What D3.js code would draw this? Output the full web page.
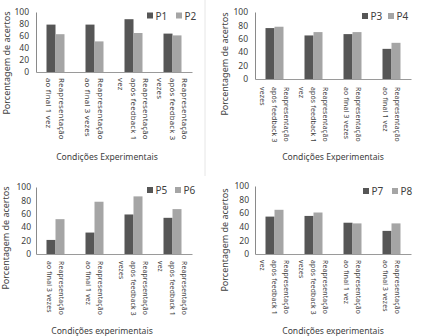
<!DOCTYPE html>
<html>
<head>
<meta charset="utf-8">
<script src="https://cdn.jsdelivr.net/npm/d3@7"></script>
<style>
  body { margin: 0; background: #fff; }
  text { font-family: "Noto Sans", sans-serif; fill: #404040; }
</style>
</head>
<body>
<div id="chart"></div>
<script>
// values
var yTicks = [0, 20, 40, 60, 80, 100];

var cats1 = [["Reapresentação", "ao final 1 vez"], ["Reapresentação", "ao final 3 vezes"],
             ["Reapresentação", "após feedback 1", "vez"], ["Reapresentação", "após feedback 3", "vezes"]];
var p1 = [79, 79, 88, 64];
var p2 = [63, 51, 65, 61];

var cats2 = [["Reapresentação", "após feedback 3", "vezes"], ["Reapresentação", "após feedback 1", "vez"],
             ["Reapresentação", "ao final 3 vezes"], ["Reapresentação", "ao final 1 vez"]];
var p3 = [76, 65, 67, 45];
var p4 = [78, 70, 70, 54];

var cats3 = [["Reapresentação", "ao final 3 vezes"], ["Reapresentação", "ao final 1 vez"],
             ["Reapresentação", "após feedback 3", "vezes"], ["Reapresentação", "após feedback 1", "vez"]];
var p5 = [21, 32, 59, 54];
var p6 = [52, 78, 86, 67];

var cats4 = [["Reapresentação", "após feedback 1", "vez"], ["Reapresentação", "após feedback 3", "vezes"],
             ["Reapresentação", "ao final 1 vez"], ["Reapresentação", "ao final 3 vezes"]];
var p7 = [55, 56, 46, 34];
var p8 = [65, 61, 45, 45];

var dark = "#565656", light = "#a5a5a5";

var svg = d3.select("#chart").append("svg")
    .attr("width", 422)
    .attr("height", 336);

// faint panel separator
svg.append("line")
    .attr("x1", 205).attr("x2", 205).attr("y1", 0).attr("y2", 176)
    .attr("stroke", "#e6e6e6");

function panel(o) {
  var g = svg.append("g");

  var x = d3.scaleBand()
    .domain(d3.range(o.cats.length))
    .range([o.x0, o.x0 + 156]);

  var xs = d3.scaleBand()
    .domain([0, 1])
    .range([0, x.bandwidth()])
    .paddingOuter(21 / 18);

  var y = d3.scaleLinear()
    .domain([0, 100])
    .range([o.yBase, o.yTop]);

  // bars
  var series = [o.a, o.b];
  series.forEach(function(vals, s) {
    g.selectAll(null)
      .data(vals)
      .enter()
      .append("rect")
        .attr("x", function(d, i) { return x(i) + xs(s); })
        .attr("y", function(d) { return y(d); })
        .attr("width", xs.bandwidth())
        .attr("height", function(d) { return o.yBase - y(d); })
        .attr("fill", s == 0 ? dark : light);
  });

  // y axis
  var yAxis = g.append("g")
    .attr("transform", "translate(" + o.x0 + ",0)")
    .call(d3.axisLeft(y).tickValues(yTicks).tickSize(0).tickPadding(o.tickPad));
  yAxis.select(".domain").attr("stroke", "#8a8a8a");
  yAxis.selectAll("text").style("font-size", "8.5px").attr("fill", "#404040");

  // x axis line
  var xAxis = g.append("g")
    .attr("transform", "translate(0," + o.yBase + ")")
    .call(d3.axisBottom(x).tickSize(0).tickFormat(""));
  xAxis.select(".domain").attr("stroke", "#9a9a9a");

  // category labels, rotated, one column per line
  o.cats.forEach(function(lines, i) {
    var cx = x(i) + x.bandwidth() / 2;
    var t = g.append("text")
      .attr("transform", "translate(" + cx + "," + (o.yBase + o.labGap) + ") rotate(90)")
      .style("font-size", o.labSize + "px")
      .style("letter-spacing", "0.2px");
    lines.forEach(function(ln, k) {
      t.append("tspan")
        .attr("x", 0)
        .attr("y", (k - (lines.length - 1) / 2) * o.lh)
        .attr("dominant-baseline", "central")
        .text(ln);
    });
  });

  // axis titles
  g.append("text")
    .attr("transform", "translate(" + o.ytX + "," + o.ytY + ") rotate(-90)")
    .attr("text-anchor", "middle")
    .attr("dominant-baseline", "central")
    .style("font-size", "9px")
    .text("Porcentagem de acertos");

  g.append("text")
    .attr("x", o.xtX)
    .attr("y", o.xtY)
    .attr("text-anchor", "middle")
    .style("font-size", "8.6px")
    .text(o.xTitle);

  // legend
  o.names.forEach(function(n, s) {
    g.append("rect")
      .attr("x", o.leg[s])
      .attr("y", o.legY - 3)
      .attr("width", 6)
      .attr("height", 6)
      .attr("fill", s == 0 ? dark : light);
    g.append("text")
      .attr("x", o.leg[s] + 8.5)
      .attr("y", o.legY)
      .attr("dominant-baseline", "central")
      .style("font-size", "10px")
      .text(n);
  });
}

panel({cats: cats1, a: p1, b: p2, names: ["P1", "P2"],
       x0: 36, yTop: 12, yBase: 72, tickPad: 7, labGap: 6, labSize: 7.8, lh: 12.5,
       ytX: 6, ytY: 63, xtX: 107, xtY: 160, xTitle: "Condições Experimentais",
       leg: [147, 176], legY: 15.5});

panel({cats: cats2, a: p3, b: p4, names: ["P3", "P4"],
       x0: 255, yTop: 12, yBase: 79, tickPad: 7, labGap: 8, labSize: 6.9, lh: 12.3,
       ytX: 224, ytY: 64, xtX: 333, xtY: 160, xTitle: "Condições Experimentais",
       leg: [362, 388], legY: 16});

panel({cats: cats3, a: p5, b: p6, names: ["P5", "P6"],
       x0: 36, yTop: 187, yBase: 254, tickPad: 5, labGap: 7, labSize: 6.8, lh: 11.8,
       ytX: 5, ytY: 238, xtX: 102, xtY: 334, xTitle: "Condições experimentais",
       leg: [147, 175], legY: 190});

panel({cats: cats4, a: p7, b: p8, names: ["P7", "P8"],
       x0: 255, yTop: 186, yBase: 254, tickPad: 6, labGap: 6, labSize: 6.8, lh: 11.8,
       ytX: 224, ytY: 240, xtX: 333, xtY: 334, xTitle: "Condições experimentais",
       leg: [363, 392], legY: 191});
</script>
</body>
</html>
